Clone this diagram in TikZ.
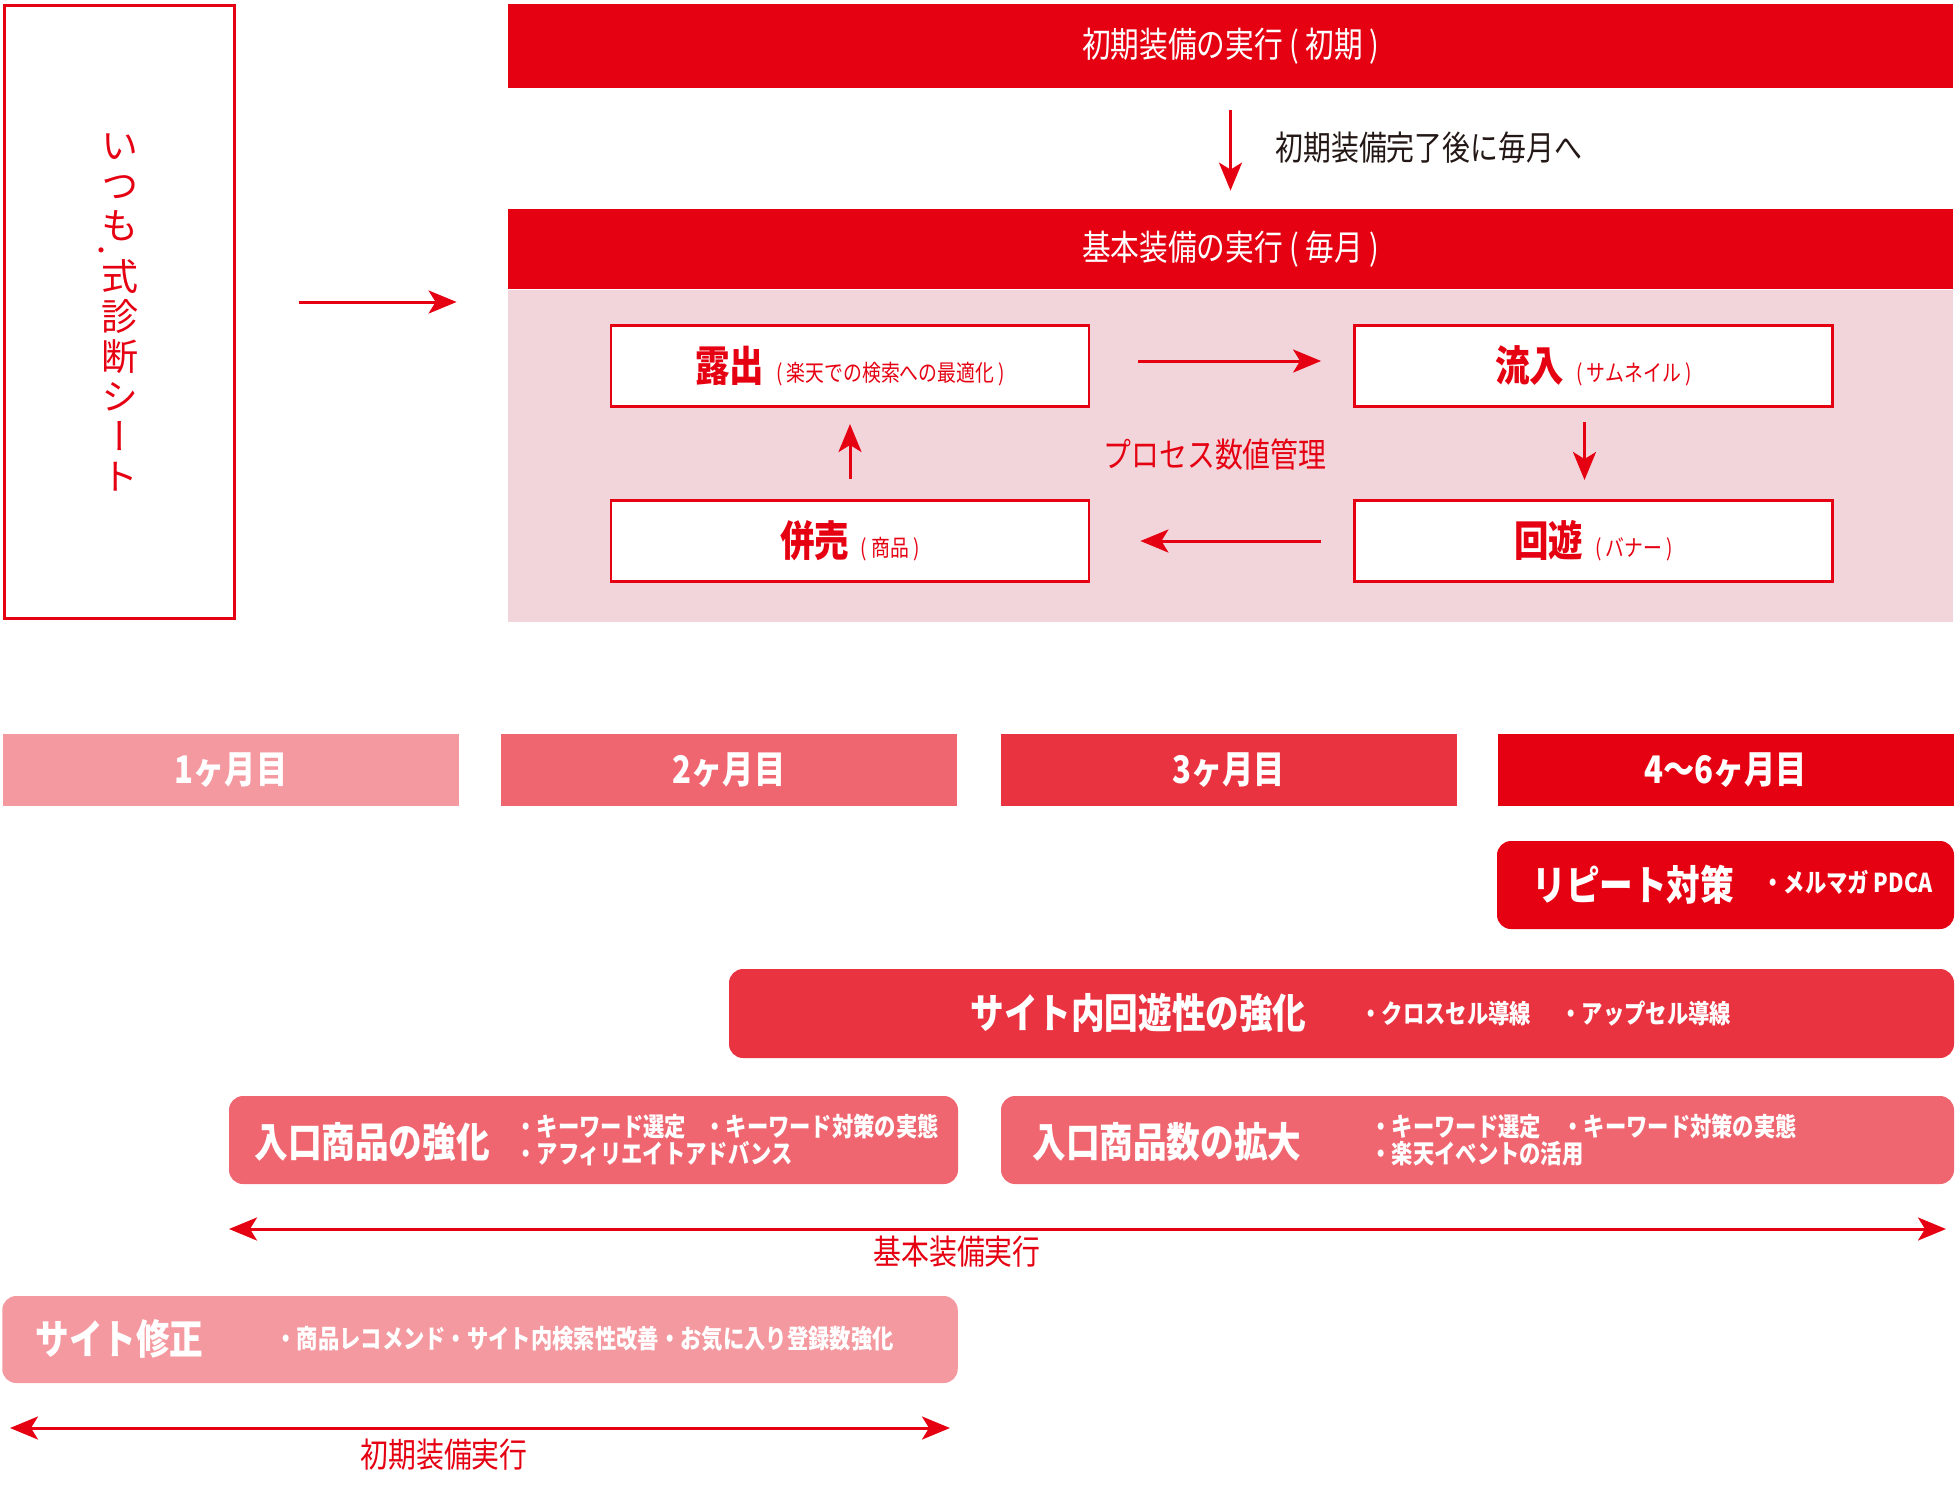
\documentclass[tikz,border=0pt]{standalone}
\usepackage{fontspec}
\newfontfamily\jp[FakeStretch=0.82]{Noto Sans CJK JP}
\newfontfamily\jpv[RawFeature=+vert]{Noto Sans CJK JP}
\usetikzlibrary{arrows.meta,positioning}
\definecolor{rakured}{HTML}{E50012}
\definecolor{areapink}{HTML}{F2D5DA}
\definecolor{mone}{HTML}{F4999F}
\definecolor{mtwo}{HTML}{EF6670}
\definecolor{mthree}{HTML}{E93340}
\definecolor{inkblack}{HTML}{231815}
\tikzset{
  arr/.style={draw=rakured, line width=1.5pt, -{Stealth[length=14pt,width=11.5pt,inset=3.5pt]}},
  darr/.style={draw=rakured, line width=1.5pt, {Stealth[length=14pt,width=11.5pt,inset=3.5pt]}-{Stealth[length=14pt,width=11.5pt,inset=3.5pt]}},
  bar/.style={fill=rakured, text=white, minimum width=722.5pt, inner sep=0pt, font=\jp\fontsize{17.5}{17.5}\selectfont},
  stepbox/.style={draw=rakured, line width=1.4pt, fill=white, text=rakured, minimum width=239pt, minimum height=40.6pt, inner sep=0pt, font=\jp},
  month/.style={minimum width=228pt, minimum height=36pt, inner sep=0pt, text=white, font=\jp\bfseries\fontsize{19}{19}\selectfont},
  task/.style={rounded corners=7pt, minimum height=44pt, inner sep=0pt},
  tasktitle/.style={anchor=west, inner sep=0pt, text=white, font=\jp\bfseries\fontsize{20.5}{20.5}\selectfont},
  taskitem/.style={anchor=west, inner sep=0pt, text=white, align=left, font=\jp\bfseries\fontsize{13}{13.5}\selectfont},
  redlabel/.style={text=rakured, inner sep=0pt, font=\jp\fontsize{17}{17}\selectfont},
}
\newcommand{\stepname}[2]{{\bfseries\fontsize{21}{21}\selectfont #1}\hspace{6pt}{\fontsize{11.5}{11.5}\selectfont ( #2 )}}

\begin{document}
\begin{tikzpicture}[x=0.5pt,y=-0.5pt]
\useasboundingbox (0,0) rectangle (1960,1490);
% diagnosis sheet
\node[draw=rakured, line width=1.5pt, minimum width=115pt, minimum height=306.5pt, inner sep=0pt] (sheet) at (119,312) {};
\node[text=rakured, align=center, inner sep=0pt, font=\jpv\fontsize{18.5}{20}\selectfont] (sheettext) at (120,312) {い\\つ\\\makebox[0pt][l]{\smash{\raisebox{-10pt}{\hspace*{-6pt}{\fontsize{12}{12}\selectfont ・}}}}も\\[5.5pt]式\\診\\断\\シ\\ー\\ト};
% upper flow
\node[bar, minimum height=42pt] (shoki) at (1230.5,46) {初期装備の実行 ( 初期 )};
\node[bar, minimum height=40pt] (kihon) at (1230.5,249) {基本装備の実行 ( 毎月 )};
\node[fill=areapink, minimum width=722.5pt, minimum height=166pt, inner sep=0pt, anchor=north] (area) at (kihon.south) {};
\draw[arr, shorten <=11pt, shorten >=9pt] (shoki) -- (kihon);
\node[text=inkblack, anchor=west, inner sep=0pt, font=\jp\fontsize{17}{17}\selectfont] (shokinote) at (1275,148) {初期装備完了後に毎月へ};
\draw[arr, shorten <=31.5pt, shorten >=25.5pt] ([yshift=5pt]sheet.east) -- ([yshift=5pt]sheet.east -| area.west);
% process cycle
\node[stepbox] (roshutsu) at (850,366) {\stepname{露出}{楽天での検索への最適化}};
\node[stepbox] (ryunyu) at (1593.5,366) {\stepname{流入}{サムネイル}};
\node[stepbox] (heibai) at (850,541) {\stepname{併売}{商品}};
\node[stepbox] (kaiyu) at (1593.5,541) {\stepname{回遊}{バナー}};
\node[redlabel] (process) at (1215,455) {プロセス数値管理};
\draw[arr, shorten <=24pt, shorten >=16pt] ([yshift=2.5pt]roshutsu.east) -- ([yshift=2.5pt]ryunyu.west);
\draw[arr, shorten <=7pt, shorten >=9.5pt] ([xshift=-4.5pt]ryunyu.south) -- ([xshift=-4.5pt]kaiyu.north);
\draw[arr, shorten <=16pt, shorten >=25pt] (kaiyu.west) -- (heibai.east);
\draw[arr, shorten <=10pt, shorten >=8pt] (heibai.north) -- (roshutsu.south);
% months
\node[month, fill=mone] (m1) at (231,770) {1ヶ月目};
\node[month, fill=mtwo] (m2) at (729,770) {2ヶ月目};
\node[month, fill=mthree] (m3) at (1228.5,770) {3ヶ月目};
\node[month, fill=rakured] (m4) at (1725.5,770) {4〜6ヶ月目};
% tasks
\node[task, fill=rakured, minimum width=228.5pt] (repeat) at (1725.5,885) {};
\node[tasktitle] (repeatT) at (1532,885) {リピート対策};
\node[taskitem] (repeatI) at (1762,882) {・メルマガ PDCA};
\node[task, fill=mthree, minimum width=612.5pt, minimum height=44.5pt] (junkai) at (1341.5,1013.5) {};
\node[tasktitle] (junkaiT) at (970,1013) {サイト内回遊性の強化};
\node[taskitem] (junkaiI) at (1360,1014) {・クロスセル導線};
\node[taskitem] (junkaiJ) at (1560,1014) {・アップセル導線};
\node[task, fill=mtwo, minimum width=364.5pt] (iriguchi) at (593.5,1140) {};
\node[tasktitle] (iriguchiT) at (254,1142) {入口商品の強化};
\node[taskitem] (iriguchiI) at (515,1140) {\makebox[94.5pt][l]{・キーワード選定}・キーワード対策の実態\\・アフィリエイトアドバンス};
\node[task, fill=mtwo, minimum width=476.5pt] (iriguchisu) at (1477.5,1140) {};
\node[tasktitle] (iriguchisuT) at (1032,1142) {入口商品数の拡大};
\node[taskitem] (iriguchisuI) at (1370,1140) {\makebox[96pt][l]{・キーワード選定}・キーワード対策の実態\\・楽天イベントの活用};
\coordinate (kihonL) at (229,1229);
\coordinate (kihonR) at (1946,1229);
\draw[darr] (kihonL) -- (kihonR);
\node[redlabel] (kihonlabel) at (957,1252) {基本装備実行};
\node[task, fill=mone, minimum width=477.75pt, minimum height=43.5pt] (shusei) at (480,1339.5) {};
\node[tasktitle] (shuseiT) at (35,1339) {サイト修正};
\node[taskitem] (shuseiI) at (275,1339) {・商品レコメンド・サイト内検索性改善・お気に入り登録数強化};
\coordinate (shokiL) at (10,1428);
\coordinate (shokiR) at (950,1428);
\draw[darr] (shokiL) -- (shokiR);
\node[redlabel] (shokilabel) at (444,1455) {初期装備実行};
\end{tikzpicture}
\end{document}
